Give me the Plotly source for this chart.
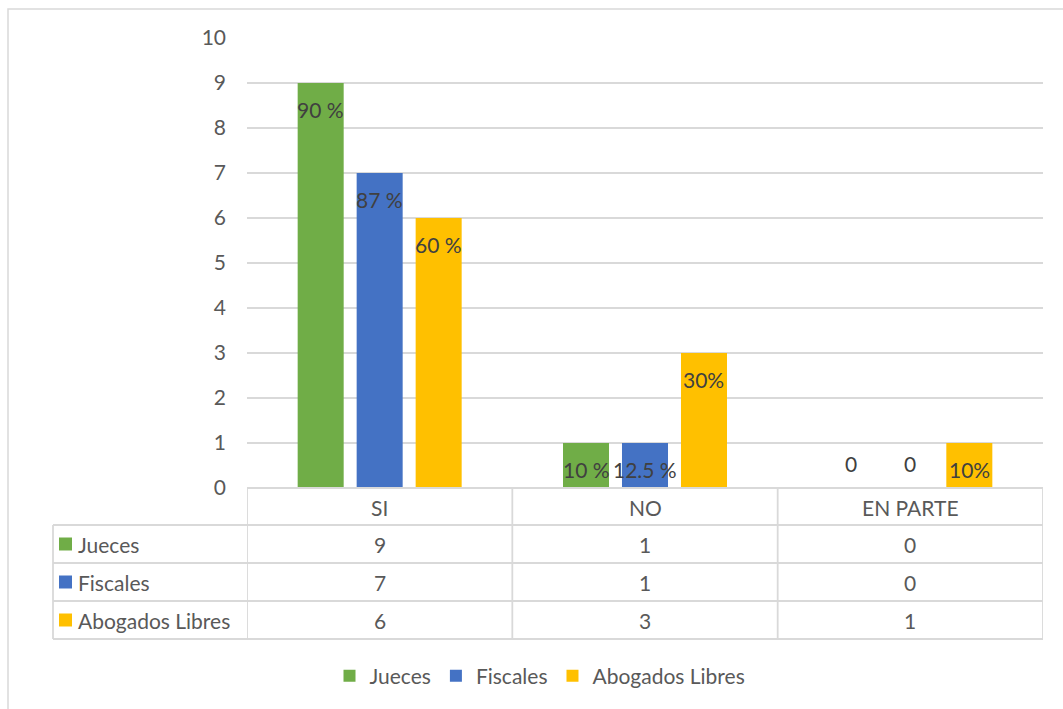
import plotly.graph_objects as go

categories = ["SI", "NO", "EN PARTE"]
series_names = ["Jueces", "Fiscales", "Abogados Libres"]
jueces = [9, 1, 0]
fiscales = [7, 1, 0]
abogados = [6, 3, 1]
jueces_labels = ["90 %", "10 %", "0"]
fiscales_labels = ["87 %", "12.5 %", "0"]
abogados_labels = ["60 %", "30%", "10%"]
y_ticks = list(range(0, 11))

colors = ["#70AD47", "#4472C4", "#FFC000"]
values = [jueces, fiscales, abogados]
labels = [jueces_labels, fiscales_labels, abogados_labels]

W, H = 1063, 709
L, R, T, B = 247, 1043, 38, 488  # plot area pixels
FONT = "Lato"
FS = 21
TXT = "#595959"
GRID = "#D9D9D9"


def px_x(p):
    return (p - L) / (R - L)


def px_y(p):
    return (B - p) / (B - T)


fig = go.Figure()
for name, vals, col in zip(series_names, values, colors):
    fig.add_trace(go.Bar(name=name, x=categories, y=vals, marker=dict(color=col, line=dict(width=0)),
                         hoverinfo="x+y+name"))

annotations = []
shapes = []
slot = (R - L) / len(categories) * (1 - 0.333) / 3
for i, (labs, vals) in enumerate(zip(labels, values)):
    for c, v, t in zip(categories, vals, labs):
        annotations.append(dict(x=c, y=v, xref="x", yref="y", text=t, showarrow=False,
                                xshift=(i - 1) * slot, yshift=(-26 if v > 0 else 25), yanchor="middle",
                                font=dict(family=FONT, size=FS, color="#404040")))

# data table
row_edges = [488, 525, 563, 601, 639]
line = dict(color=GRID, width=1.8)
for k, yy in enumerate(row_edges):
    x0 = 0 if k == 0 else px_x(53)
    shapes.append(dict(type="line", xref="paper", yref="paper", x0=x0, x1=1, y0=px_y(yy), y1=px_y(yy), line=line))
n = len(categories)
for j in range(n + 1):
    shapes.append(dict(type="line", xref="x", yref="paper", x0=j - 0.5, x1=j - 0.5,
                       y0=px_y(488), y1=px_y(639), line=line))
shapes.append(dict(type="line", xref="paper", yref="paper", x0=px_x(53), x1=px_x(53),
                   y0=px_y(525), y1=px_y(639), line=line))
for c in categories:
    annotations.append(dict(x=c, y=px_y(507), xref="x", yref="paper", text=c, showarrow=False,
                            yanchor="middle", font=dict(family=FONT, size=FS, color=TXT)))
for r, (name, vals, col) in enumerate(zip(series_names, values, colors)):
    yc = (row_edges[r + 1] + row_edges[r + 2]) / 2
    shapes.append(dict(type="rect", xref="paper", yref="paper", x0=px_x(59), x1=px_x(72),
                       y0=px_y(yc - 6.5), y1=px_y(yc + 6.5), fillcolor=col, line=dict(width=0)))
    annotations.append(dict(x=px_x(76), y=px_y(yc), xref="paper", yref="paper", text=name,
                            showarrow=False, xanchor="left", yanchor="middle",
                            font=dict(family=FONT, size=FS, color=TXT)))
    for c, v in zip(categories, vals):
        annotations.append(dict(x=c, y=px_y(yc), xref="x", yref="paper", text=str(v), showarrow=False,
                                yanchor="middle", font=dict(family=FONT, size=FS, color=TXT)))

# chart outer border
shapes.append(dict(type="rect", xref="paper", yref="paper", x0=px_x(8), x1=px_x(1080),
                   y0=px_y(720), y1=px_y(9), line=dict(color=GRID, width=1.5), layer="below"))

fig.update_layout(
    width=W, height=H,
    margin=dict(l=L, r=W - R, t=T, b=H - B),
    paper_bgcolor="white", plot_bgcolor="white",
    barmode="group", bargap=0.333, bargroupgap=0.22,
    font=dict(family=FONT, size=FS, color=TXT),
    xaxis=dict(showticklabels=False, showgrid=False, zeroline=False, showline=False,
               range=[-0.5, n - 0.5], fixedrange=True),
    yaxis=dict(range=[0, 10], tickvals=y_ticks, showgrid=True, gridcolor=GRID, gridwidth=1.8,
               zeroline=False, showline=False, ticks="", ticklabelstandoff=20,
               tickfont=dict(family=FONT, size=FS, color=TXT)),
    legend=dict(orientation="h", x=px_x(540), xanchor="center", y=px_y(676), yanchor="middle",
                font=dict(family=FONT, size=FS, color=TXT), traceorder="normal"),
    showlegend=True,
    shapes=shapes,
    annotations=annotations,
)

fig.write_html("out.html")
